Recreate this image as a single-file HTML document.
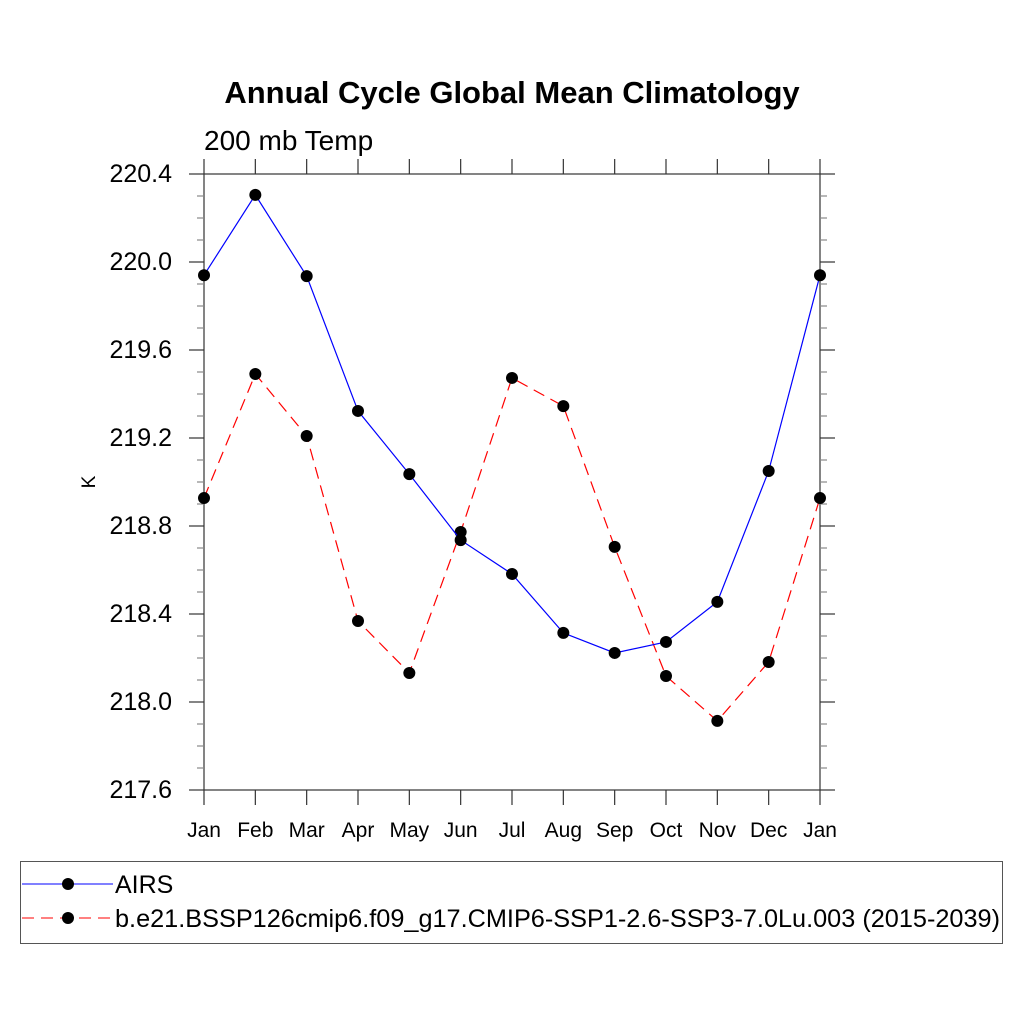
<!DOCTYPE html>
<html><head><meta charset="utf-8"><style>body{margin:0;background:#fff}svg{display:block;font-family:"Liberation Sans",sans-serif}</style></head>
<body>
<svg id="c" width="1024" height="1024">
<text x="512" y="103" text-anchor="middle" font-size="31" font-weight="bold">Annual Cycle Global Mean Climatology</text>
<text x="204" y="150" font-size="28">200 mb Temp</text>
<text transform="translate(95,482) rotate(-90)" text-anchor="middle" font-size="19">K</text>
<g id="axes"></g><g id="series"></g>
<rect x="20.5" y="861.5" width="982" height="82" fill="none" stroke="#555" stroke-width="1"/>
<g><line x1="22" y1="884" x2="113" y2="884" stroke="#00f" stroke-width="1"/><circle cx="68" cy="884" r="6"/><text x="115" y="893" font-size="25">AIRS</text></g>
<g><line x1="22" y1="918" x2="113" y2="918" stroke="#f00" stroke-width="1" stroke-dasharray="12,7"/><circle cx="68" cy="918" r="6"/><text x="115" y="927" font-size="25" textLength="885" lengthAdjust="spacingAndGlyphs">b.e21.BSSP126cmip6.f09_g17.CMIP6-SSP1-2.6-SSP3-7.0Lu.003 (2015-2039)</text></g>
</svg>
<script>
const months=["Jan","Feb","Mar","Apr","May","Jun","Jul","Aug","Sep","Oct","Nov","Dec","Jan"];
const airs=[219.94,220.305,219.936,219.323,219.036,218.736,218.582,218.314,218.223,218.273,218.455,219.05,219.94];
const model=[218.927,219.491,219.209,218.368,218.132,218.773,219.473,219.345,218.705,218.118,217.914,218.182,218.927];
const yTicks=["217.6","218.0","218.4","218.8","219.2","219.6","220.0","220.4"];
const L=204,R=820,T=174,B=790,ymin=217.6,ymax=220.4;
const NS="http://www.w3.org/2000/svg";
const X=i=>L+(R-L)*i/(months.length-1);
const Y=v=>B-(v-ymin)/(ymax-ymin)*(B-T);
function mk(tag,attrs,parent){const e=document.createElementNS(NS,tag);for(const k in attrs)e.setAttribute(k,attrs[k]);parent.appendChild(e);return e;}
const ax=document.getElementById('axes'),sg=document.getElementById('series');
const fr=mk('rect',{x:L,y:T,width:R-L,height:B-T,fill:'none',stroke:'#333','stroke-width':1.2},ax);


for(let v=ymin;v<=ymax+1e-6;v+=0.1){const y=Y(v);const major=Math.abs((v-ymin)/0.4-Math.round((v-ymin)/0.4))<1e-3;const len=major?15:7;
mk('line',{x1:L-len,y1:y,x2:L,y2:y,stroke:major?'#333':'#888','stroke-width':1.2},ax);
mk('line',{x1:R,y1:y,x2:R+len,y2:y,stroke:major?'#333':'#888','stroke-width':1.2},ax);}
yTicks.forEach(t=>{const e=mk('text',{x:172,y:Y(+t)+8,'text-anchor':'end','font-size':25},ax);e.textContent=t;

});
months.forEach((m,i)=>{const x=X(i);
mk('line',{x1:x,y1:B,x2:x,y2:B+15,stroke:'#333','stroke-width':1.2},ax);
mk('line',{x1:x,y1:T-15,x2:x,y2:T,stroke:'#333','stroke-width':1.2},ax);
const e=mk('text',{x:x,y:837,'text-anchor':'middle','font-size':21},ax);e.textContent=m;

});
function series(d,color,dash,name){
const p=mk('polyline',{points:d.map((v,i)=>X(i)+','+Y(v)).join(' '),fill:'none',stroke:color,'stroke-width':1.2,'stroke-dasharray':dash},sg);


d.forEach((v,i)=>{const c=mk('circle',{cx:X(i),cy:Y(v),r:6,fill:'#000'},sg);

});}
series(model,'#f00','12,7','model');
series(airs,'#00f','none','airs');
</script>
</body></html>
